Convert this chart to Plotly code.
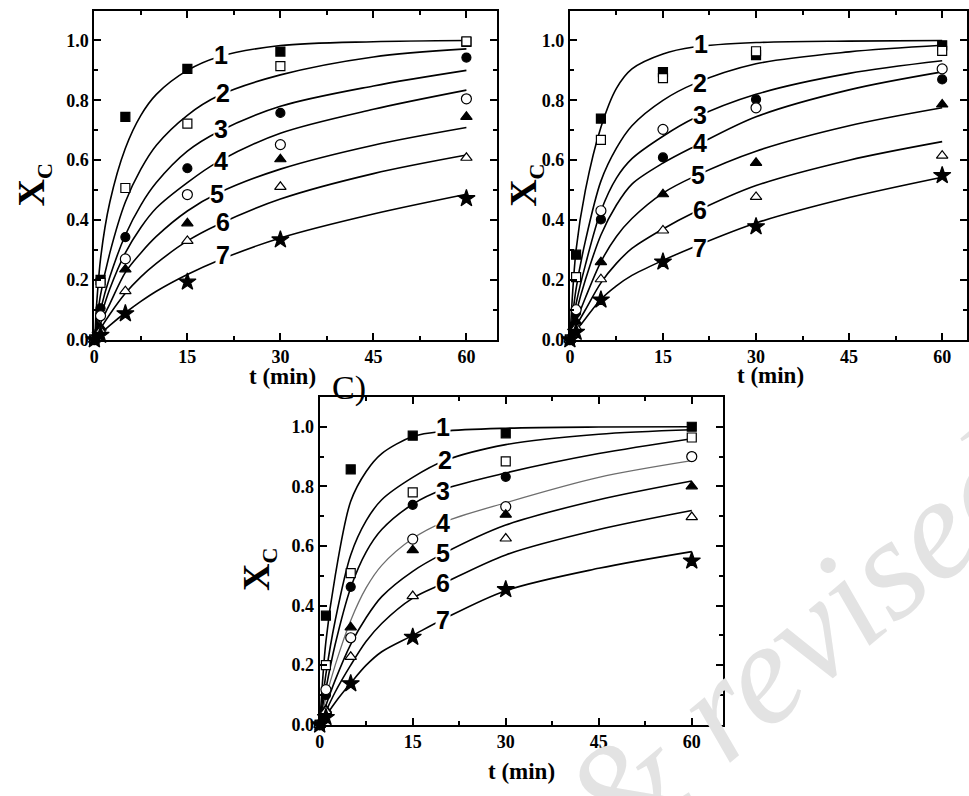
import plotly.graph_objects as go

# ---------------- data ----------------
t_pts = [0, 1, 5, 15, 30, 60]
t_fit = [0, 1, 2.5, 5, 7.5, 10, 15, 20, 30, 45, 60]

# Panel A (top-left) experimental points
a1 = [0, 0.20, 0.745, 0.905, 0.963, 0.995]
a2 = [0, 0.19, 0.507, 0.722, 0.914, 0.997]
a3 = [0, 0.105, 0.343, 0.573, 0.758, 0.943]
a4 = [0, 0.08, 0.27, 0.485, 0.652, 0.805]
a5 = [0, 0.04, 0.235, 0.389, 0.603, 0.745]
a6 = [0, 0.03, 0.162, 0.33, 0.511, 0.608]
a7 = [0, 0.015, 0.087, 0.193, 0.334, 0.472]
# Panel A model curves
fa1 = [0, 0.27, 0.46, 0.64, 0.75, 0.82, 0.90, 0.945, 0.983, 0.996, 1.0]
fa2 = [0, 0.15, 0.29, 0.46, 0.57, 0.65, 0.75, 0.815, 0.885, 0.945, 0.972]
fa3 = [0, 0.10, 0.21, 0.35, 0.45, 0.525, 0.63, 0.695, 0.78, 0.848, 0.90]
fa4 = [0, 0.075, 0.17, 0.29, 0.375, 0.44, 0.525, 0.595, 0.69, 0.77, 0.834]
fa5 = [0, 0.055, 0.12, 0.225, 0.29, 0.345, 0.43, 0.49, 0.57, 0.65, 0.709]
fa6 = [0, 0.037, 0.085, 0.155, 0.21, 0.255, 0.33, 0.385, 0.47, 0.555, 0.617]
fa7 = [0, 0.02, 0.048, 0.09, 0.128, 0.162, 0.218, 0.265, 0.34, 0.42, 0.486]

# Panel B (top-right) experimental points
b1 = [0, 0.284, 0.739, 0.894, 0.951, 0.984]
b2 = [0, 0.209, 0.668, 0.874, 0.964, 0.965]
b3 = [0, 0.09, 0.402, 0.609, 0.803, 0.870]
b4 = [0, 0.10, 0.431, 0.703, 0.775, 0.905]
b5 = [0, 0.06, 0.259, 0.486, 0.591, 0.786]
b6 = [0, 0.04, 0.202, 0.365, 0.477, 0.615]
b7 = [0, 0.025, 0.133, 0.26, 0.378, 0.549]
# Panel B model curves
fb1 = [0, 0.30, 0.50, 0.71, 0.84, 0.905, 0.955, 0.978, 0.993, 0.998, 1.0]
fb2 = [0, 0.17, 0.33, 0.53, 0.64, 0.715, 0.80, 0.855, 0.922, 0.962, 0.984]
fb3 = [0, 0.12, 0.25, 0.43, 0.54, 0.605, 0.68, 0.74, 0.82, 0.89, 0.932]
fb4 = [0, 0.09, 0.20, 0.35, 0.45, 0.52, 0.59, 0.645, 0.745, 0.835, 0.895]
fb5 = [0, 0.06, 0.14, 0.26, 0.345, 0.405, 0.49, 0.545, 0.63, 0.715, 0.775]
fb6 = [0, 0.045, 0.10, 0.19, 0.255, 0.305, 0.37, 0.425, 0.515, 0.60, 0.662]
fb7 = [0, 0.03, 0.07, 0.135, 0.18, 0.215, 0.265, 0.31, 0.39, 0.475, 0.543]

# Panel C (bottom) experimental points
c1 = [0, 0.366, 0.857, 0.970, 0.978, 1.0]
c2 = [0, 0.20, 0.509, 0.78, 0.884, 0.964]
c3 = [0, 0.10, 0.463, 0.738, 0.832, 0.90]
c4 = [0, 0.118, 0.292, 0.623, 0.732, 0.90]
c5 = [0, 0.05, 0.327, 0.586, 0.705, 0.80]
c6 = [0, 0.046, 0.228, 0.432, 0.625, 0.697]
c7 = [0, 0.025, 0.138, 0.294, 0.454, 0.55]
# Panel C model curves
fc1 = [0, 0.28, 0.50, 0.75, 0.85, 0.91, 0.967, 0.985, 0.995, 0.999, 1.0]
fc2 = [0, 0.17, 0.35, 0.57, 0.685, 0.755, 0.83, 0.885, 0.94, 0.975, 0.99]
fc3 = [0, 0.12, 0.27, 0.46, 0.58, 0.655, 0.74, 0.79, 0.845, 0.91, 0.96]
fc4 = [0, 0.09, 0.20, 0.35, 0.46, 0.535, 0.625, 0.68, 0.745, 0.83, 0.886]
fc5 = [0, 0.065, 0.15, 0.27, 0.36, 0.43, 0.515, 0.575, 0.67, 0.755, 0.818]
fc6 = [0, 0.045, 0.11, 0.20, 0.28, 0.34, 0.425, 0.475, 0.57, 0.655, 0.719]
fc7 = [0, 0.03, 0.075, 0.14, 0.20, 0.245, 0.30, 0.355, 0.45, 0.525, 0.581]

curve_labels = ["1", "2", "3", "4", "5", "6", "7"]
# label anchor points (t, X) on each curve
lab_a_t = [20.5, 20.8, 20.5, 20.5, 19.7, 20.8, 20.8]
lab_a_x = [0.951, 0.824, 0.703, 0.598, 0.488, 0.394, 0.284]
lab_b_t = [21.2, 20.9, 20.9, 20.9, 20.6, 20.9, 20.9]
lab_b_x = [0.987, 0.857, 0.750, 0.657, 0.549, 0.433, 0.306]
lab_c_t = [19.9, 20.2, 19.9, 19.9, 19.9, 19.9, 19.9]
lab_c_x = [1.0, 0.89, 0.783, 0.677, 0.578, 0.476, 0.353]

x_ticks = [0, 15, 30, 45, 60]
y_ticks = [0.0, 0.2, 0.4, 0.6, 0.8, 1.0]

# ---------------- styles ----------------
W, H = 969, 796
sym = ["square", "square-open", "circle", "circle-open",
       "triangle-up", "triangle-up-open", "star"]
msize = [9, 9, 9, 10, 10, 10, 13]

fig = go.Figure()

panels = [
    dict(xa="x", ya="y", pts=[a1, a2, a3, a4, a5, a6, a7],
         fit=[fa1, fa2, fa3, fa4, fa5, fa6, fa7], lt=lab_a_t, lx=lab_a_x,
         line_cols=["black"] * 7),
    dict(xa="x2", ya="y2", pts=[b1, b2, b3, b4, b5, b6, b7],
         fit=[fb1, fb2, fb3, fb4, fb5, fb6, fb7], lt=lab_b_t, lx=lab_b_x,
         line_cols=["black"] * 7),
    dict(xa="x3", ya="y3", pts=[c1, c2, c3, c4, c5, c6, c7],
         fit=[fc1, fc2, fc3, fc4, fc5, fc6, fc7], lt=lab_c_t, lx=lab_c_x,
         line_cols=["black", "black", "black", "#6e6e6e", "black", "black", "black"]),
]

annotations = []

# watermark (drawn first so it sits behind other annotations)
annotations.append(dict(x=796 / W, y=1 - 652 / H, xref="paper", yref="paper",
                        text="<i>&amp; revised</i>", showarrow=False, textangle=-40,
                        xanchor="center", yanchor="middle",
                        font=dict(family="Liberation Serif", size=145, color="#e3e3e3")))

for p in panels:
    for i, f in enumerate(p["fit"]):
        fig.add_trace(go.Scatter(
            x=t_fit, y=f, mode="lines", xaxis=p["xa"], yaxis=p["ya"],
            line=dict(color=p["line_cols"][i], width=1.6 if p["line_cols"][i] == "black" else 1.3,
                      shape="spline", smoothing=0.9),
            hoverinfo="skip", showlegend=False))
    for i, s in enumerate(p["pts"]):
        open_sym = sym[i].endswith("-open")
        fig.add_trace(go.Scatter(
            x=t_pts, y=s, mode="markers", xaxis=p["xa"], yaxis=p["ya"],
            marker=dict(symbol=sym[i].replace("-open", ""), size=msize[i],
                        color="white" if open_sym else "black",
                        line=dict(color="black", width=1.2)),
            cliponaxis=False, showlegend=False))
    for i, lab in enumerate(curve_labels):
        annotations.append(dict(
            x=p["lt"][i], y=p["lx"][i], xref=p["xa"], yref=p["ya"],
            text="<b>%s</b>" % lab, showarrow=False, bgcolor="white",
            borderpad=0, xanchor="center", yanchor="middle",
            font=dict(family="Liberation Sans", size=25, color="black")))

tickfont = dict(family="Liberation Serif", size=18, color="black")


def xaxis(domain, rng, anchor):
    return dict(domain=domain, range=rng, anchor=anchor, tickvals=x_ticks,
                ticktext=["<b>%d</b>" % v for v in x_ticks],
                ticks="inside", ticklen=7, tickwidth=2, tickcolor="black",
                minor=dict(dtick=7.5, ticks="inside", ticklen=4, tickwidth=2,
                           tickcolor="black"),
                showline=True, linewidth=2, linecolor="black", mirror="allticks",
                showgrid=False, zeroline=False, tickfont=tickfont)


def yaxis(domain, anchor):
    return dict(domain=domain, range=[0, 1.1], anchor=anchor, tickvals=y_ticks,
                ticktext=["<b>%.1f</b>" % v for v in y_ticks],
                ticks="inside", ticklen=7, tickwidth=2, tickcolor="black",
                minor=dict(dtick=0.1, ticks="inside", ticklen=4, tickwidth=2,
                           tickcolor="black"),
                showline=True, linewidth=2, linecolor="black", mirror="allticks",
                showgrid=False, zeroline=False, tickfont=tickfont)


def px(v):
    return v / W


def py(v):
    return 1 - v / H


titlefont = dict(family="Liberation Serif", size=23, color="black")
yfont = dict(family="Liberation Serif", size=38, color="black")
ytitle = "<b>X<sub><span style='font-size:22px'>C</span></sub></b>"

for (xc, yc) in [(280, 381), (771, 380), (520, 781)]:
    annotations.append(dict(x=px(xc), y=py(yc), xref="paper", yref="paper",
                            text="<b>t (min)</b>", showarrow=False,
                            xanchor="center", yanchor="middle", font=titlefont))
for (xc, yc) in [(29, 187), (524, 188), (256, 577)]:
    annotations.append(dict(x=px(xc), y=py(yc), xref="paper", yref="paper",
                            text=ytitle, showarrow=False, textangle=-90,
                            xanchor="center", yanchor="middle", font=yfont))

annotations.append(dict(x=px(346), y=py(393), xref="paper", yref="paper",
                        text="C)", showarrow=False, xanchor="center", yanchor="middle",
                        font=dict(family="Liberation Serif", size=34, color="black")))

fig.update_layout(
    width=W, height=H, margin=dict(l=0, r=0, t=0, b=0),
    paper_bgcolor="white", plot_bgcolor="rgba(0,0,0,0)",
    showlegend=False,
    xaxis=xaxis([px(90), px(496)], [0, 65], "y"),
    yaxis=yaxis([py(344), py(10.7)], "x"),
    xaxis2=xaxis([px(569), 1.0], [0, 64], "y2"),
    yaxis2=yaxis([py(344), py(10.7)], "x2"),
    xaxis3=xaxis([px(317), px(723)], [0, 65], "y3"),
    yaxis3=yaxis([py(734), py(402)], "x3"),
    annotations=annotations,
)

fig.write_html("out.html")
